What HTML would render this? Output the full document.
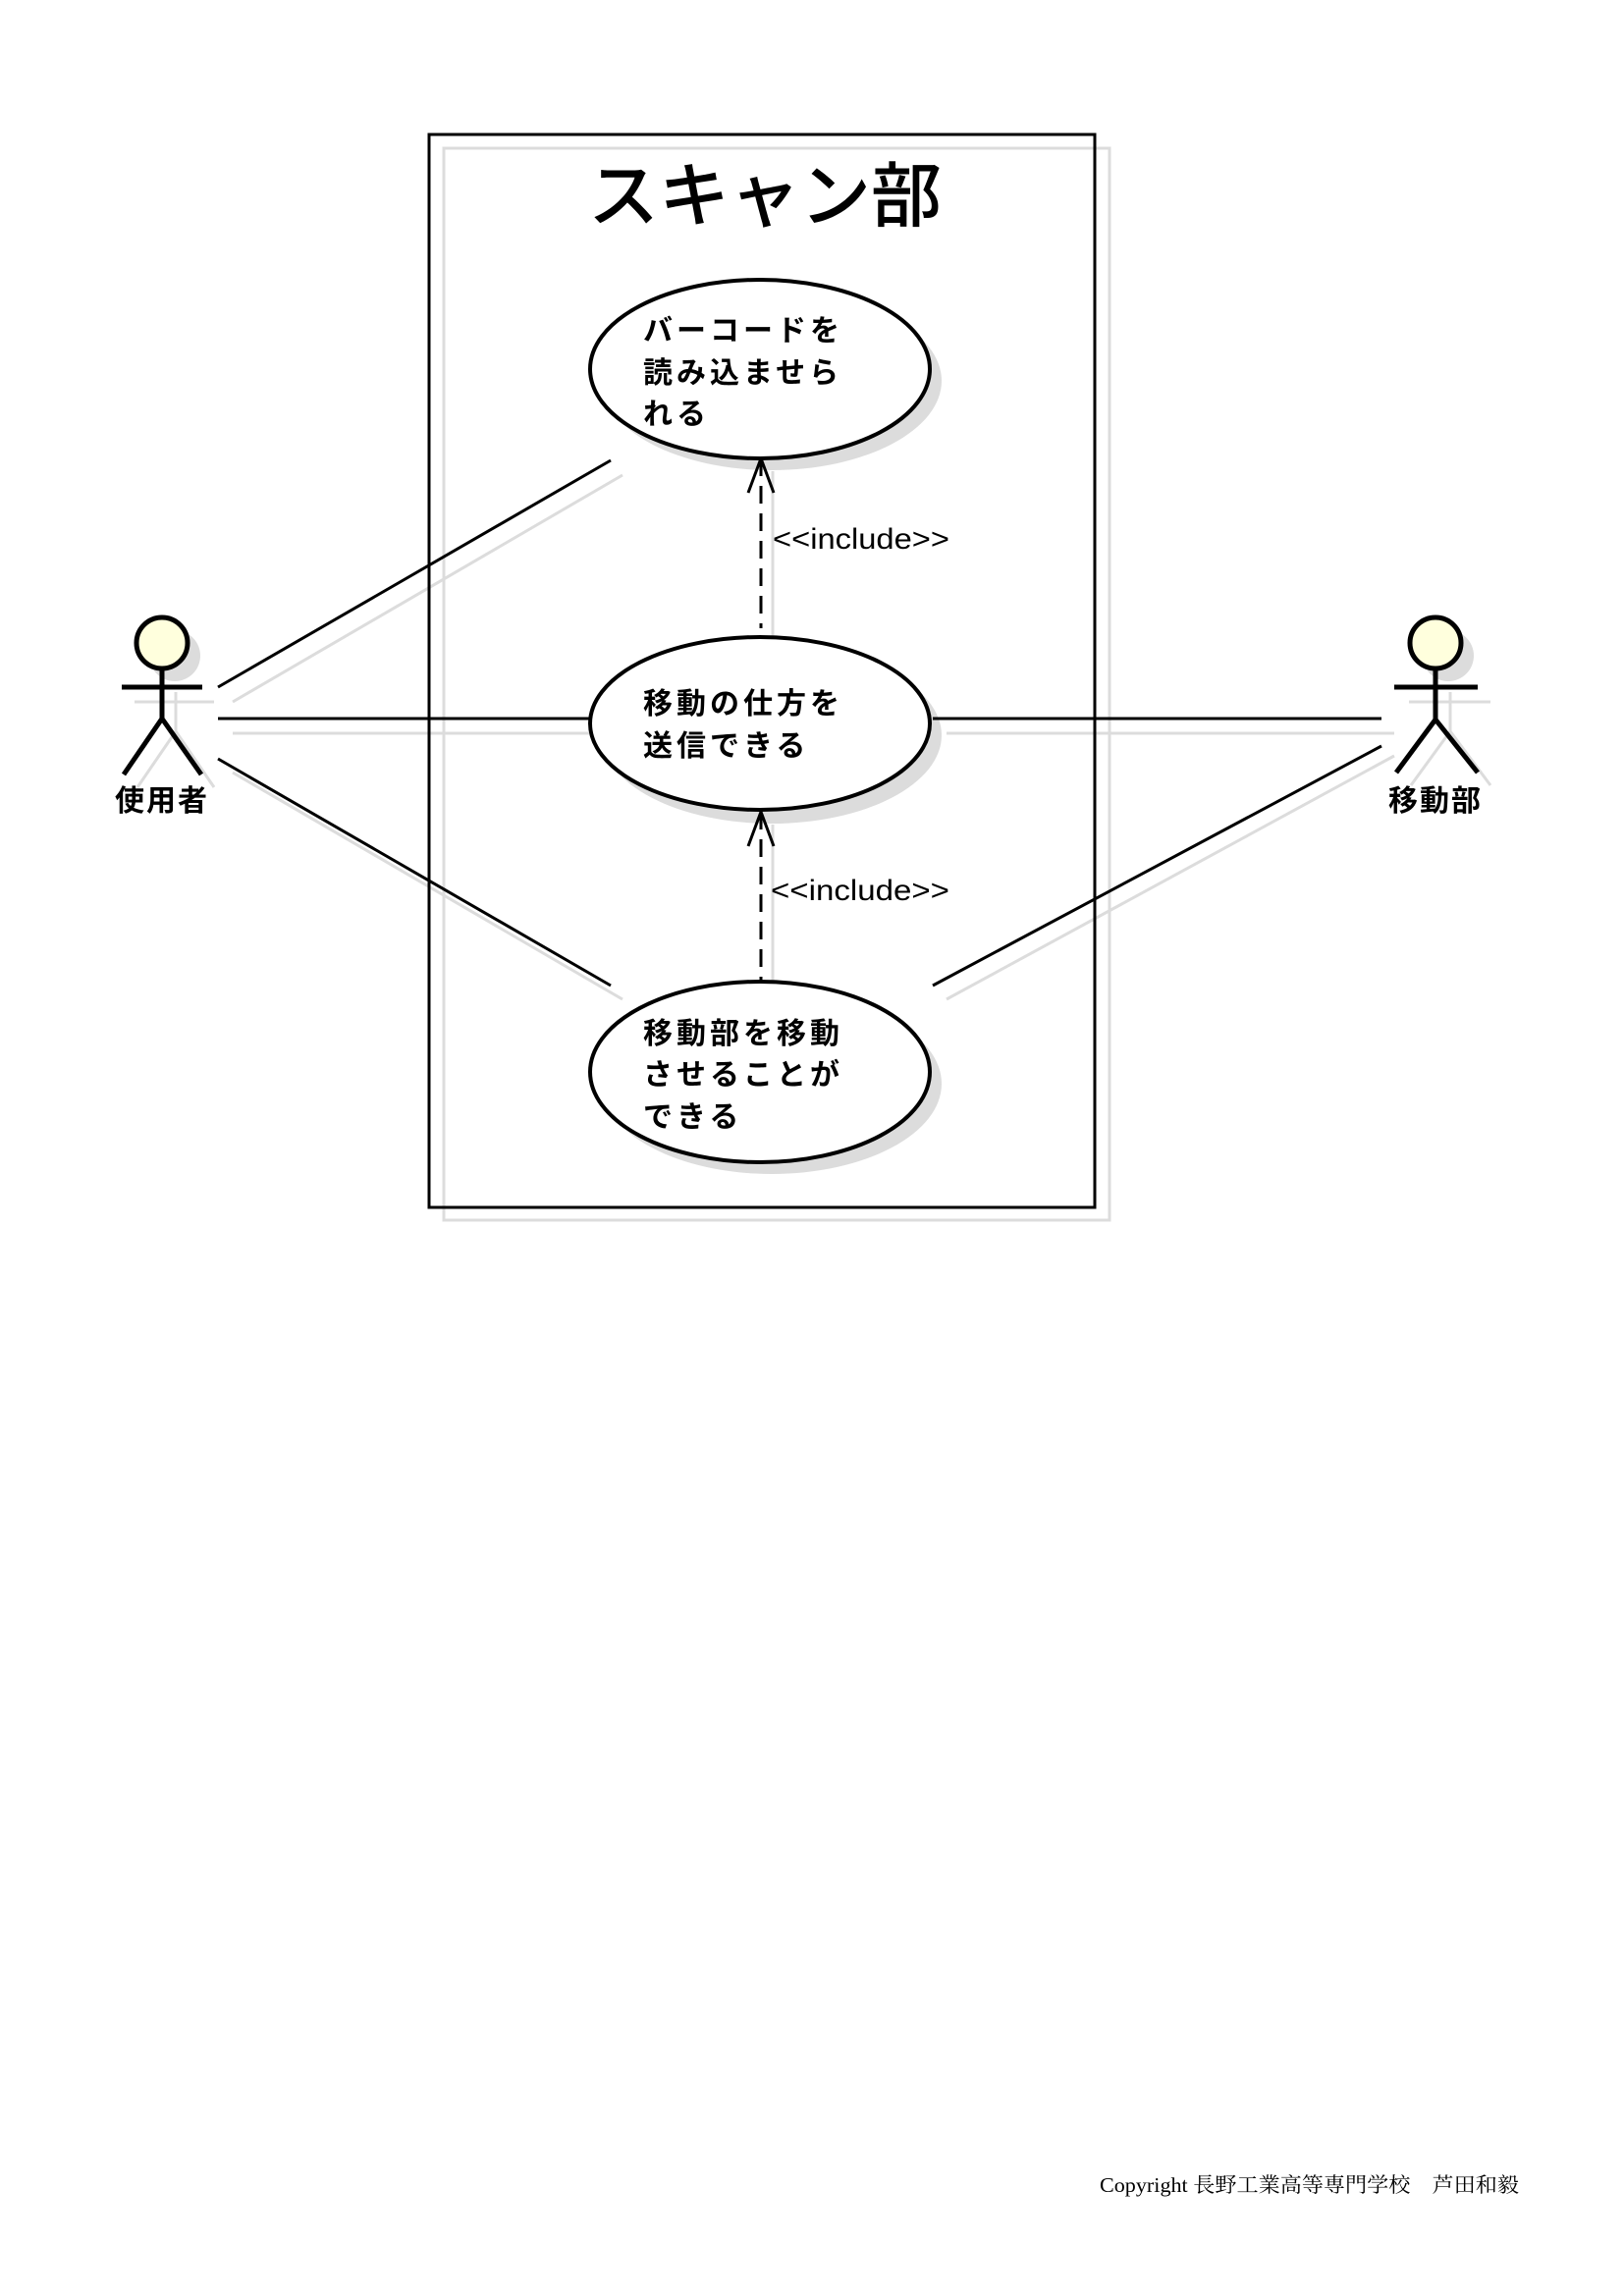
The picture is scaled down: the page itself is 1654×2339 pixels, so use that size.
<!DOCTYPE html>
<html><head><meta charset="utf-8"><style>
html,body{margin:0;padding:0;background:#fff;}
svg{display:block;}
.j{font-family:"Liberation Sans","Noto Sans CJK JP",sans-serif;}
</style></head><body>
<svg width="1654" height="2339" viewBox="0 0 1654 2339" xmlns="http://www.w3.org/2000/svg">
<rect width="1654" height="2339" fill="#fff"/>
<g stroke="#dcdcdc" stroke-width="3" fill="none">
<rect x="452" y="151" width="678" height="1092"/>
<line x1="237" y1="715" x2="634" y2="484"/>
<line x1="237" y1="747" x2="612" y2="747"/>
<line x1="237" y1="787" x2="634" y2="1018"/>
<line x1="964" y1="747" x2="1420" y2="747"/>
<line x1="1420" y1="770" x2="964" y2="1018"/>
<line x1="787" y1="480" x2="787" y2="650"/>
<line x1="787" y1="840" x2="787" y2="1018"/>
<line x1="137" y1="715" x2="218" y2="715"/>
<line x1="179" y1="705" x2="179" y2="745"/>
<line x1="179" y1="745" x2="140" y2="802"/>
<line x1="179" y1="745" x2="218" y2="802"/>
<line x1="1435" y1="715" x2="1518" y2="715"/>
<line x1="1477" y1="705" x2="1477" y2="745"/>
<line x1="1477" y1="745" x2="1437" y2="800"/>
<line x1="1477" y1="745" x2="1518" y2="800"/>
</g>
<g fill="#dcdcdc">
<ellipse cx="786" cy="388" rx="173" ry="91"/>
<ellipse cx="786" cy="749" rx="173" ry="90"/>
<ellipse cx="786" cy="1104" rx="173" ry="92"/>
<circle cx="178" cy="668" r="26"/>
<circle cx="1475" cy="668" r="26"/>
</g>
<rect x="437" y="137" width="678" height="1093" fill="none" stroke="#000" stroke-width="3"/>
<text x="779" y="225" text-anchor="middle" class="j" font-size="72" font-weight="500" fill="#000">スキャン部</text>
<g stroke="#000" stroke-width="3" fill="none">
<line x1="222" y1="700" x2="622" y2="469"/>
<line x1="222" y1="732" x2="600" y2="732"/>
<line x1="222" y1="773" x2="622" y2="1004"/>
<line x1="950" y1="732" x2="1407" y2="732"/>
<line x1="1407" y1="760" x2="950" y2="1004"/>
<line x1="775" y1="467" x2="775" y2="640" stroke-dasharray="18,10"/>
<polyline points="762,502 775,467 788,502"/>
<line x1="775" y1="827" x2="775" y2="1000" stroke-dasharray="18,10"/>
<polyline points="762,862 775,827 788,862"/>
</g>
<g fill="#fff" stroke="#000" stroke-width="4">
<ellipse cx="774" cy="376" rx="173" ry="91"/>
<ellipse cx="774" cy="737" rx="173" ry="88"/>
<ellipse cx="774" cy="1092" rx="173" ry="92"/>
</g>
<g class="j" font-size="30" fill="#000" letter-spacing="4" font-weight="bold">
<text x="655" y="347">バーコードを</text>
<text x="655" y="390">読み込ませら</text>
<text x="655" y="432">れる</text>
<text x="655" y="727">移動の仕方を</text>
<text x="655" y="770">送信できる</text>
<text x="655" y="1063">移動部を移動</text>
<text x="655" y="1105">させることが</text>
<text x="655" y="1148">できる</text>
</g>
<g font-family="Liberation Sans, sans-serif" font-size="30" fill="#000">
<text x="787" y="559" textLength="180" lengthAdjust="spacingAndGlyphs">&lt;&lt;include&gt;&gt;</text>
<text x="785" y="917" textLength="182" lengthAdjust="spacingAndGlyphs">&lt;&lt;include&gt;&gt;</text>
</g>
<g stroke="#000" stroke-width="5" fill="none">
<circle cx="165" cy="655" r="26" fill="#ffffdd"/>
<line x1="124" y1="700" x2="206" y2="700"/>
<line x1="165" y1="681" x2="165" y2="732"/>
<line x1="165" y1="732" x2="126" y2="789"/>
<line x1="165" y1="732" x2="205" y2="789"/>
<circle cx="1462" cy="655" r="26" fill="#ffffdd"/>
<line x1="1420" y1="700" x2="1505" y2="700"/>
<line x1="1462" y1="681" x2="1462" y2="733"/>
<line x1="1462" y1="733" x2="1422" y2="787"/>
<line x1="1462" y1="733" x2="1505" y2="787"/>
</g>
<g class="j" font-size="30" fill="#000" text-anchor="middle" font-weight="bold">
<text x="165" y="826" letter-spacing="2">使用者</text>
<text x="1462" y="826" letter-spacing="2">移動部</text>
</g>
<text x="1120" y="2233" font-family="Liberation Serif, Noto Serif CJK SC, serif" font-size="21" fill="#000" textLength="427" lengthAdjust="spacingAndGlyphs">Copyright 長野工業高等専門学校　芦田和毅</text>
</svg>
</body></html>
